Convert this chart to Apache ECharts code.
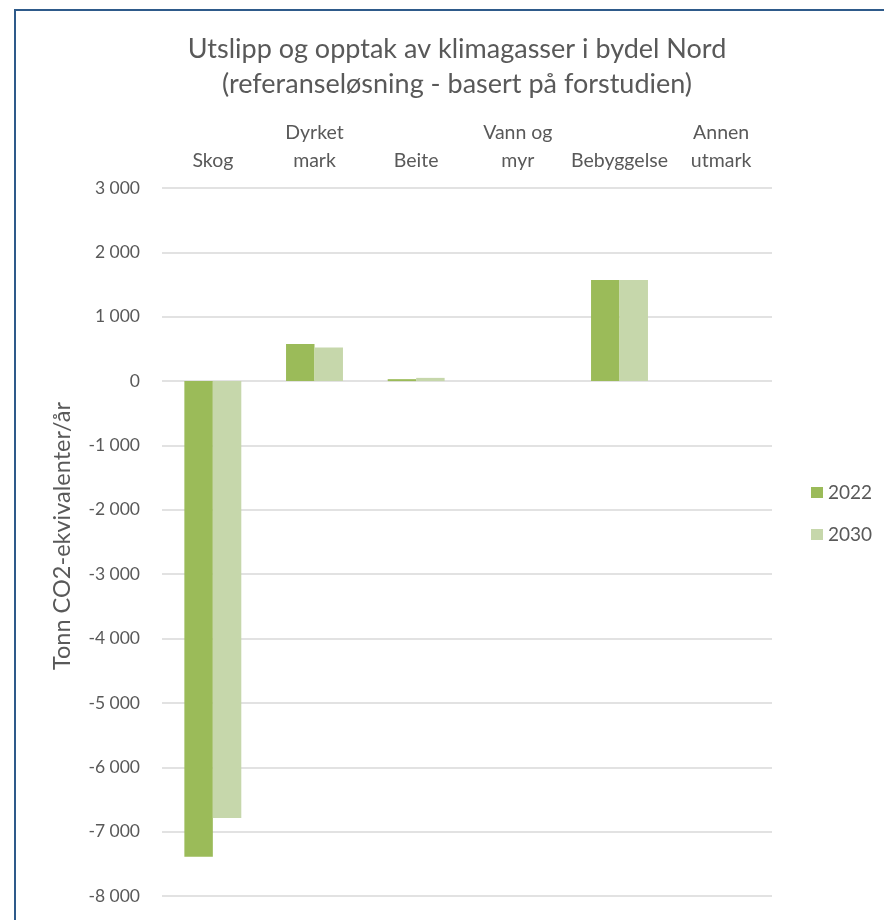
<!DOCTYPE html>
<html>
<head>
<meta charset="utf-8">
<script src="https://cdn.jsdelivr.net/npm/echarts@6/dist/echarts.min.js"></script>
<style>
html,body{margin:0;padding:0;background:#fff;}
#chart{width:884px;height:920px;}
</style>
</head>
<body>
<div id="chart"></div>
<script>
var categories = ['Skog', 'Dyrket\nmark', 'Beite', 'Vann og\nmyr', 'Bebyggelse', 'Annen\nutmark'];
var values2022 = [-7390, 575, 30, 0, 1570, 0];
var values2030 = [-6790, 520, 50, 0, 1570, 0];
var seriesNames = ['2022', '2030'];
var titleText = 'Utslipp og opptak av klimagasser i bydel Nord\n(referanseløsning - basert på forstudien)';
var yAxisName = 'Tonn CO2-ekvivalenter/år';

var font = 'Lato';
var chart = echarts.init(document.getElementById('chart'), null, {renderer: 'canvas'});
chart.setOption({
  animation: false,
  backgroundColor: '#ffffff',
  graphic: [{
    type: 'polyline',
    shape: {points: [[15, 930], [15, 10], [900, 10]]},
    style: {stroke: '#2E5A8A', lineWidth: 2, fill: null}
  }],
  title: {
    text: titleText,
    left: 452,
    top: 27,
    textAlign: 'center',
    textStyle: {fontFamily: font, fontSize: 27, fontWeight: 'normal', color: '#595959', lineHeight: 35}
  },
  legend: {
    orient: 'vertical',
    left: 806,
    top: 478,
    itemWidth: 12,
    itemHeight: 11,
    itemGap: 23,
    icon: 'rect',
    textStyle: {fontFamily: font, fontSize: 19, color: '#595959'},
    data: seriesNames
  },
  grid: {left: 162, right: 112, top: 188, bottom: 24, containLabel: false},
  xAxis: {
    type: 'category',
    position: 'top',
    data: categories,
    axisLine: {show: false},
    axisTick: {show: false},
    axisLabel: {interval: 0, margin: 13, fontFamily: font, fontSize: 19.5, color: '#595959', lineHeight: 28}
  },
  yAxis: {
    type: 'value',
    min: -8000,
    max: 3000,
    interval: 1000,
    name: yAxisName,
    nameLocation: 'middle',
    nameGap: 88,
    nameTextStyle: {fontFamily: font, fontSize: 23.5, color: '#595959', padding: [0, 0, 0, 12]},
    axisLine: {show: false},
    axisTick: {show: false},
    splitLine: {lineStyle: {color: '#d9d9d9', width: 1.5}},
    axisLabel: {
      margin: 22,
      fontFamily: font,
      fontSize: 17.5,
      color: '#595959',
      formatter: function (v) {
        var s = Math.abs(v).toString().replace(/\B(?=(\d{3})+(?!\d))/g, ' ');
        return (v < 0 ? '-' : '') + s;
      }
    }
  },
  series: [
    {name: seriesNames[0], type: 'bar', data: values2022, barWidth: '28%', barGap: '0%', itemStyle: {color: '#9BBB59'}},
    {name: seriesNames[1], type: 'bar', data: values2030, barWidth: '28%', barGap: '0%', itemStyle: {color: '#C6D7AB'}}
  ]
});
</script>
</body>
</html>
